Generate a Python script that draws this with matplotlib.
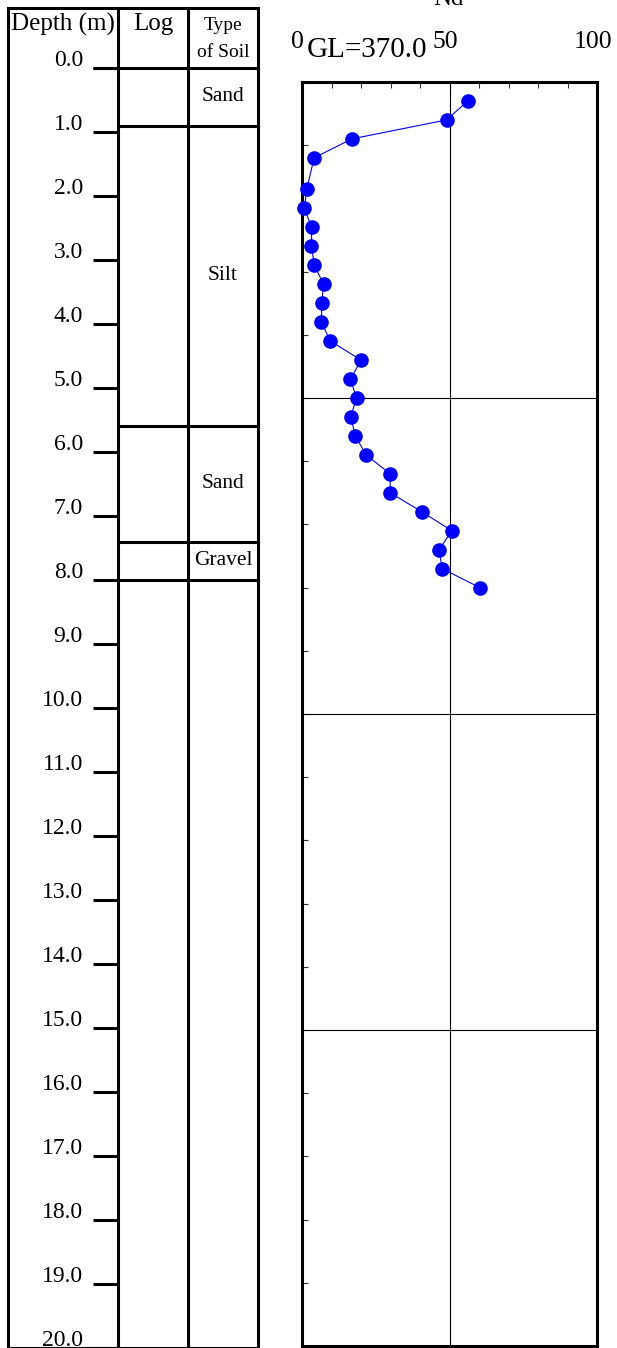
import matplotlib
matplotlib.use("Agg")
import matplotlib.pyplot as plt
import numpy as np

plt.rcParams['font.family'] = ['Liberation Serif', 'DejaVu Serif']

# SPT blow counts against depth
depth = [0.30, 0.60, 0.90, 1.20, 1.70, 2.00, 2.30, 2.60, 2.90, 3.20, 3.50, 3.80, 4.10,
         4.40, 4.70, 5.00, 5.30, 5.60, 5.90, 6.20, 6.50, 6.80, 7.10, 7.40, 7.70, 8.00]
Nd = [56.2, 49.0, 16.9, 4.1, 1.6, 0.8, 3.3, 3.2, 4.2, 7.3, 6.7, 6.6, 9.6,
      20.1, 16.4, 18.5, 16.5, 18.1, 21.7, 29.9, 29.9, 40.6, 50.8, 46.5, 47.5, 60.3]

# soil layers
layer_top = [0.0, 0.9, 5.6, 7.4]
layer_bot = [0.9, 5.6, 7.4, 8.0]
layer_name = ['Sand', 'Silt', 'Sand', 'Gravel']

depth_ticks = np.arange(0, 21, 1)
n_ticks = [0, 50, 100]
ground_level = 'GL=370.0'

W, H = 617, 1348
fig = plt.figure(figsize=(W / 100, H / 100), dpi=100)


def px_rect(x0, y0, x1, y1):
    return [x0 / W, 1 - y1 / H, (x1 - x0) / W, (y1 - y0) / H]


thick = 2.2

# ---- left: borehole log ----
axL = fig.add_axes(px_rect(8, 8, 258, 1348))
axL.set_xlim(0, 1)
axL.set_ylim(20, -60 / 64)
axL.set_xticks([])
axL.set_yticks([])
for s in axL.spines.values():
    s.set_linewidth(thick)
axL.spines['bottom'].set_linewidth(1.5)

c1, c2 = 0.44, 0.72      # column separators
tick_x0 = 0.34
axL.axvline(c1, color='k', lw=thick)
axL.axvline(c2, color='k', lw=thick)

# header separator at depth 0
axL.plot([tick_x0, 1], [0, 0], color='k', lw=thick, solid_capstyle='butt')

for d in depth_ticks:
    axL.plot([tick_x0, c1], [d, d], color='k', lw=thick, solid_capstyle='butt')
    axL.annotate('%.1f' % d, xy=(0.30, d), xytext=(0, 1.8), textcoords='offset points',
                 ha='right', va='baseline', fontsize=17, annotation_clip=False)

for top, bot, name in zip(layer_top, layer_bot, layer_name):
    axL.plot([c1, 1], [bot, bot], color='k', lw=thick, solid_capstyle='butt')
    axL.text((c2 + 1) / 2, (top + bot) / 2, name, ha='center', va='center', fontsize=15.5)

axL.text(c1 / 2, -0.59, 'Depth (m)', ha='center', va='baseline', fontsize=18)
axL.text((c1 + c2) / 2, -0.59, 'Log', ha='center', va='baseline', fontsize=18)
axL.text((c2 + 1) / 2, -0.59, 'Type', ha='center', va='baseline', fontsize=14)
axL.text((c2 + 1) / 2, -0.17, 'of Soil', ha='center', va='baseline', fontsize=14)

# ---- right: Nd profile ----
ax = fig.add_axes(px_rect(302, 82, 597, 1346))
ax.set_xlim(0, 100)
ax.set_ylim(20, 0)
for s in ax.spines.values():
    s.set_linewidth(thick)
ax.set_xticks(np.arange(0, 101, 10))
ax.set_yticks(depth_ticks)
ax.tick_params(axis='x', top=True, bottom=False, labeltop=False, labelbottom=False,
               direction='in', length=4, width=0.8, color='#333333')
ax.tick_params(axis='y', left=True, right=False, labelleft=False,
               direction='in', length=4, width=0.8, color='#333333')

ax.axvline(50, color='k', lw=0.8)
for g in [5, 10, 15]:
    ax.axhline(g, color='k', lw=0.8)

ax.plot(Nd, depth, color='#0000ff', lw=0.8, marker='o', markersize=9.5,
        markerfacecolor='#0000ff', markeredgecolor='#0000ff', clip_on=False, zorder=5)

for v in n_ticks:
    ax.annotate(str(v), xy=(v, 1), xycoords=('data', 'axes fraction'),
                xytext=(-3, 24.5), textcoords='offset points',
                ha='center', va='baseline', fontsize=18.5)

ax.annotate(ground_level, xy=(0, 1), xycoords=('data', 'axes fraction'),
            xytext=(3.6, 18), textcoords='offset points',
            ha='left', va='baseline', fontsize=21)

ax.annotate('Nd', xy=(50, 1), xycoords=('data', 'axes fraction'),
            xytext=(-1, 55.5), textcoords='offset points',
            ha='center', va='baseline', fontsize=18, annotation_clip=False)

fig.savefig('out.png', dpi=100)
